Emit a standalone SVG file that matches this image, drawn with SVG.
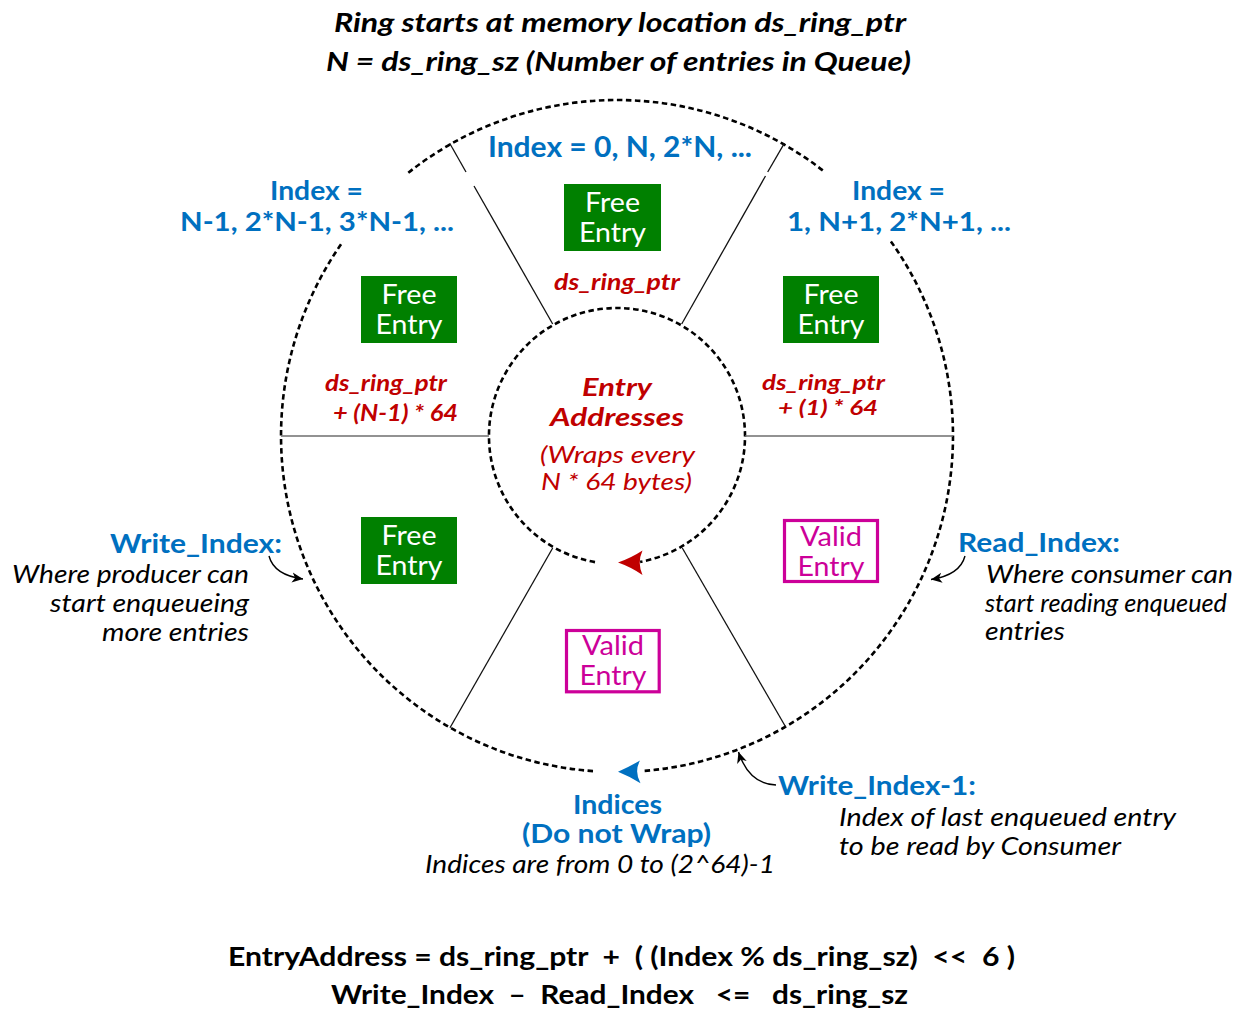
<svg xmlns="http://www.w3.org/2000/svg" width="1244" height="1011" viewBox="0 0 1244 1011">
<defs>
<style>
text{font-family:Lato,"Liberation Sans",sans-serif}
.bi{font-weight:bold;font-style:italic}
.b{font-weight:bold}
.i{font-style:italic}
.blue{fill:#0070C0}
.red{fill:#C00000}
.blk{fill:#000}
.ring{fill:none;stroke:#000;stroke-width:2.6;stroke-dasharray:5.5 3.5}
.spoke{stroke:#111;stroke-width:1.3;fill:none}
.hspoke{stroke:#6e6e6e;stroke-width:1.6}
.free rect{fill:#008000}
.free text{fill:#fff;font-size:26px;text-anchor:middle}
.valid rect{fill:#fff;stroke:#CC0099;stroke-width:3.2}
.valid text{fill:#CC0099;font-size:26px;text-anchor:middle}
.call{fill:none;stroke:#000;stroke-width:1.4}
</style>
<marker id="ah" markerUnits="userSpaceOnUse" markerWidth="12" markerHeight="12" viewBox="0 0 12 12" refX="11" refY="6" orient="auto">
<path d="M0,1 L11,6 L0,11 L3,6 Z" fill="#000"/>
</marker>
</defs>
<rect width="1244" height="1011" fill="#fff"/>

<g id="title">
<text class="bi blk" x="334" y="32" font-size="27.5" textLength="572" lengthAdjust="spacingAndGlyphs">Ring starts at memory location ds_ring_ptr</text>
<text class="bi blk" x="326" y="71" font-size="27.5" textLength="585" lengthAdjust="spacingAndGlyphs">N = ds_ring_sz (Number of entries in Queue)</text>
</g>

<g id="outer-ring">
<path class="ring" d="M593,771.1 A336,336 0 0 1 343.1,241.4 M408.3,172.7 A336,336 0 0 1 822.9,170.5 M890.9,241.4 A336,336 0 0 1 641.6,771.1"/>
<path d="M618,771.7 Q629,767 640,760.5 Q634,771.7 640.5,783.3 Q629,776 618,771.7 Z" fill="#0070C0"/>
</g>

<g id="inner-ring">
<path class="ring" d="M595,562.1 A128,128 0 0 1 617,308 A128,128 0 0 1 640.1,561.9"/>
<path d="M618,562.5 Q631,558 642.5,550.5 Q637,562.5 642.5,575 Q631,567 618,562.5 Z" fill="#C00000"/>
<text class="bi red" x="582" y="396" font-size="25.5" textLength="70" lengthAdjust="spacingAndGlyphs">Entry</text>
<text class="bi red" x="550" y="426" font-size="25.5" textLength="134" lengthAdjust="spacingAndGlyphs">Addresses</text>
<text class="i red" x="540" y="463" font-size="24" textLength="155" lengthAdjust="spacingAndGlyphs">(Wraps every</text>
<text class="i red" x="541" y="490" font-size="24" textLength="151" lengthAdjust="spacingAndGlyphs">N * 64 bytes)</text>
</g>

<g id="spokes">
<line class="spoke" x1="449.7" y1="143.3" x2="466" y2="172"/>
<line class="spoke" x1="474" y1="186" x2="552.7" y2="324"/>
<line class="spoke" x1="784.3" y1="143.3" x2="767.7" y2="172"/>
<line class="spoke" x1="765.5" y1="176" x2="681.7" y2="324"/>
<line class="spoke" x1="552.7" y1="548" x2="450" y2="727.7"/>
<line class="spoke" x1="682.3" y1="548" x2="785.7" y2="727"/>
<line class="hspoke" x1="281" y1="436" x2="489" y2="436"/>
<line class="hspoke" x1="745" y1="436" x2="953" y2="436"/>
</g>

<g id="slot-0">
<text class="b blue" x="488" y="157" font-size="28" textLength="264" lengthAdjust="spacingAndGlyphs">Index = 0, N, 2*N, ...</text>
<g class="free"><rect x="564" y="184" width="97" height="67"/><text x="612.5" y="212" textLength="55" lengthAdjust="spacingAndGlyphs">Free</text><text x="612.5" y="242" textLength="67" lengthAdjust="spacingAndGlyphs">Entry</text></g>
<text class="bi red" x="554" y="290" font-size="22" textLength="126" lengthAdjust="spacingAndGlyphs">ds_ring_ptr</text>
</g>

<g id="slot-n-1">
<text class="b blue" x="270" y="200" font-size="27" textLength="93" lengthAdjust="spacingAndGlyphs">Index =</text>
<text class="b blue" x="180" y="231" font-size="27" textLength="274" lengthAdjust="spacingAndGlyphs">N-1, 2*N-1, 3*N-1, ...</text>
<g class="free"><rect x="361" y="276" width="96" height="67"/><text x="409" y="304" textLength="55" lengthAdjust="spacingAndGlyphs">Free</text><text x="409" y="334" textLength="67" lengthAdjust="spacingAndGlyphs">Entry</text></g>
<text class="bi red" x="325" y="391" font-size="22" textLength="122" lengthAdjust="spacingAndGlyphs">ds_ring_ptr</text>
<text class="bi red" x="333" y="421" font-size="22" textLength="125" lengthAdjust="spacingAndGlyphs">+ (N-1) * 64</text>
</g>

<g id="slot-1">
<text class="b blue" x="852" y="200" font-size="27" textLength="93" lengthAdjust="spacingAndGlyphs">Index =</text>
<text class="b blue" x="787" y="231" font-size="27" textLength="224" lengthAdjust="spacingAndGlyphs">1, N+1, 2*N+1, ...</text>
<g class="free"><rect x="783" y="276" width="96" height="67"/><text x="831" y="304" textLength="55" lengthAdjust="spacingAndGlyphs">Free</text><text x="831" y="334" textLength="67" lengthAdjust="spacingAndGlyphs">Entry</text></g>
<text class="bi red" x="762" y="390" font-size="21" textLength="123" lengthAdjust="spacingAndGlyphs">ds_ring_ptr</text>
<text class="bi red" x="778" y="415" font-size="21" textLength="100" lengthAdjust="spacingAndGlyphs">+ (1) * 64</text>
</g>

<g id="slot-lower-left">
<g class="free"><rect x="361" y="517" width="96" height="67"/><text x="409" y="545" textLength="55" lengthAdjust="spacingAndGlyphs">Free</text><text x="409" y="575" textLength="67" lengthAdjust="spacingAndGlyphs">Entry</text></g>
</g>

<g id="slot-lower-right">
<g class="valid"><rect x="784.5" y="520.5" width="93" height="61"/><text x="831" y="546" textLength="62" lengthAdjust="spacingAndGlyphs">Valid</text><text x="831" y="576" textLength="67" lengthAdjust="spacingAndGlyphs">Entry</text></g>
</g>

<g id="slot-bottom">
<g class="valid"><rect x="566.5" y="630.5" width="92.7" height="61.3"/><text x="613" y="655" textLength="62" lengthAdjust="spacingAndGlyphs">Valid</text><text x="613" y="685" textLength="67" lengthAdjust="spacingAndGlyphs">Entry</text></g>
</g>

<g id="write-index-label">
<text class="b blue" x="110" y="553" font-size="27" textLength="172" lengthAdjust="spacingAndGlyphs">Write_Index:</text>
<text class="i blk" x="12" y="583" font-size="24.5" textLength="237" lengthAdjust="spacingAndGlyphs">Where producer can</text>
<text class="i blk" x="50" y="612" font-size="24.5" textLength="199" lengthAdjust="spacingAndGlyphs">start enqueueing</text>
<text class="i blk" x="102" y="641" font-size="24.5" textLength="147" lengthAdjust="spacingAndGlyphs">more entries</text>
</g>

<g id="read-index-label">
<text class="b blue" x="958" y="552" font-size="27" textLength="162" lengthAdjust="spacingAndGlyphs">Read_Index:</text>
<text class="i blk" x="986" y="583" font-size="24.5" textLength="247" lengthAdjust="spacingAndGlyphs">Where consumer can</text>
<text class="i blk" x="985" y="612" font-size="24.5" textLength="242" lengthAdjust="spacingAndGlyphs">start reading enqueued</text>
<text class="i blk" x="985" y="640" font-size="24.5" textLength="80" lengthAdjust="spacingAndGlyphs">entries</text>
</g>

<g id="write-index-1-label">
<text class="b blue" x="778" y="795" font-size="27" textLength="198" lengthAdjust="spacingAndGlyphs">Write_Index-1:</text>
<text class="i blk" x="839" y="826" font-size="24.5" textLength="337" lengthAdjust="spacingAndGlyphs">Index of last enqueued entry</text>
<text class="i blk" x="839" y="855" font-size="24.5" textLength="282" lengthAdjust="spacingAndGlyphs">to be read by Consumer</text>
</g>

<g id="indices-label">
<text class="b blue" x="573" y="814" font-size="26.5" textLength="89" lengthAdjust="spacingAndGlyphs">Indices</text>
<text class="b blue" x="522" y="843" font-size="26.5" textLength="189" lengthAdjust="spacingAndGlyphs">(Do not Wrap)</text>
<text class="i blk" x="425" y="873" font-size="24.5" textLength="350" lengthAdjust="spacingAndGlyphs">Indices are from 0 to (2^64)-1</text>
</g>

<g id="formulas">
<text class="b blk" x="228" y="966" font-size="27.5" textLength="787" lengthAdjust="spacingAndGlyphs" xml:space="preserve">EntryAddress = ds_ring_ptr  +  ( (Index % ds_ring_sz)  &lt;&lt;  6 )</text>
<text class="b blk" x="331" y="1004" font-size="27.5" textLength="577" lengthAdjust="spacingAndGlyphs" xml:space="preserve">Write_Index  –  Read_Index   &lt;=   ds_ring_sz</text>
</g>

<g id="connectors">
<path class="call" d="M269,556 Q274,575 303,579" marker-end="url(#ah)"/>
<path class="call" d="M965,556 Q960,575 931,579.5" marker-end="url(#ah)"/>
<path class="call" d="M776,785 Q749,784 738.5,752" marker-end="url(#ah)"/>
</g>
</svg>
